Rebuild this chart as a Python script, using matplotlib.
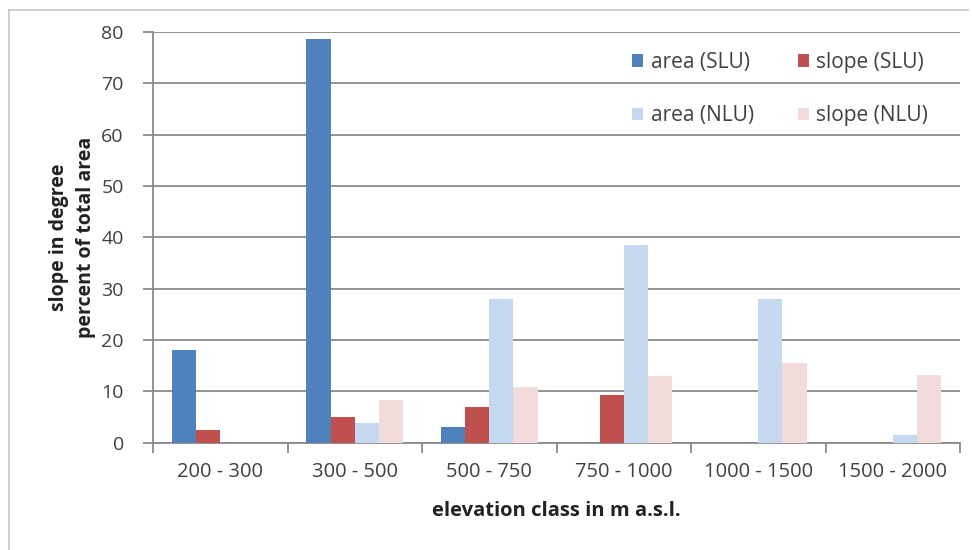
import matplotlib
matplotlib.use("Agg")
import matplotlib.pyplot as plt
from matplotlib.lines import Line2D
import numpy as np

categories = ["200 - 300", "300 - 500", "500 - 750", "750 - 1000", "1000 - 1500", "1500 - 2000"]
area_slu = [18.0, 78.7, 3.0, 0.0, 0.0, 0.0]
slope_slu = [2.5, 5.0, 6.9, 9.2, 0.0, 0.0]
area_nlu = [0.0, 3.8, 27.9, 38.5, 27.9, 1.4]
slope_nlu = [0.0, 8.2, 10.8, 12.9, 15.5, 13.1]
series_labels = ["area (SLU)", "slope (SLU)", "area (NLU)", "slope (NLU)"]
colors = ["#4F81BD", "#C0504D", "#C6D8F0", "#F2DCDB"]

plt.rcParams['font.family'] = ['Open Sans', 'DejaVu Sans']

W, H = 972, 550
fig = plt.figure(figsize=(W / 100, H / 100), dpi=100)
ax = fig.add_axes([153 / W, 1 - 442.5 / H, (960 - 153) / W, (442.5 - 32) / H])

x = np.arange(len(categories))
w = 0.18
series = [area_slu, slope_slu, area_nlu, slope_nlu]
bars = []
for i, (vals, c) in enumerate(zip(series, colors)):
    b = ax.bar(x + (i - 1.5) * w, vals, width=w, color=c, zorder=3, label=series_labels[i])
    bars.append(b)

ax.set_xlim(-0.5, len(categories) - 0.5)
ax.set_ylim(0, 80)
ax.set_yticks(np.arange(0, 81, 10))
grid_c = "#8a8a8a"
ax.yaxis.grid(True, color=grid_c, linewidth=1.3, zorder=0)
ax.set_axisbelow(True)
for s in ["top", "right"]:
    ax.spines[s].set_visible(False)
for s in ["left", "bottom"]:
    ax.spines[s].set_color(grid_c)
    ax.spines[s].set_linewidth(1.3)

ax.set_xticks(x)
ax.set_xticklabels(categories)
ax.set_xticks(np.arange(-0.5, len(categories), 1.0), minor=True)
ax.tick_params(axis="x", which="major", length=0, pad=14, labelsize=14.5, labelcolor="#404040")
ax.tick_params(axis="x", which="minor", length=7, width=1.3, color=grid_c, direction="out")
ax.tick_params(axis="y", which="major", length=7, width=1.3, color=grid_c, direction="out",
               pad=14, labelsize=14, labelcolor="#404040")

ax.set_xlabel("elevation class in m a.s.l.", fontsize=14.5, fontweight="bold", color="#222222", labelpad=14)
ax.set_ylabel("slope in degree\npercent of total area", fontsize=14, fontweight="bold",
              color="#222222", linespacing=1.45)
ax.yaxis.set_label_coords(-(153 - 96) / (960 - 153), 0.5)

handles = [bars[0], bars[2], bars[1], bars[3]]
labels = [series_labels[0], series_labels[2], series_labels[1], series_labels[3]]
leg = ax.legend(handles, labels, ncol=2, frameon=False, fontsize=15,
                loc="upper left", bbox_to_anchor=(632 / W, 1 - 52 / H),
                bbox_transform=fig.transFigure, borderpad=0, borderaxespad=0,
                handlelength=0.55, handleheight=0.55, handletextpad=0.35,
                columnspacing=2.1, labelspacing=1.55)
for t in leg.get_texts():
    t.set_color("#404040")

border_c = "#c8c8c8"
fig.add_artist(Line2D([9 / W, 968 / W], [1 - 10 / H, 1 - 10 / H], color=border_c, lw=1.2,
                      transform=fig.transFigure))
fig.add_artist(Line2D([9 / W, 9 / W], [1 - 10 / H, 0], color=border_c, lw=1.2,
                      transform=fig.transFigure))

fig.savefig("out.png", dpi=100)
